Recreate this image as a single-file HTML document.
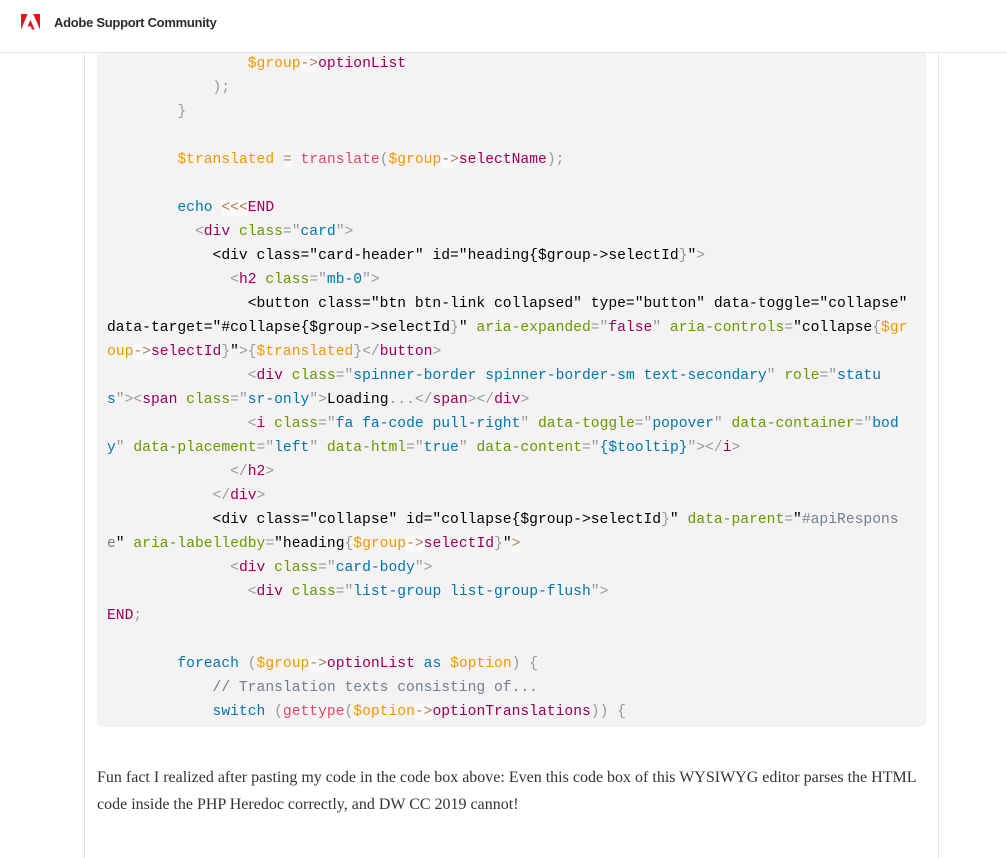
<!DOCTYPE html>
<html>
<head>
<meta charset="utf-8">
<style>
html,body{margin:0;padding:0;background:#fff;width:1007px;height:858px;overflow:hidden;position:relative}
#hdr{position:absolute;left:0;top:0;width:1007px;height:52px;background:#fff;border-bottom:1px solid #e6e6e6;z-index:3}
#title{position:absolute;left:54px;top:14px;font:bold 13px/18px "Liberation Sans",sans-serif;color:#2c2c2c;letter-spacing:-.28px;white-space:nowrap}
#bl{position:absolute;left:84px;top:52px;width:1px;height:806px;background:#e4e4e4}
#br{position:absolute;left:938px;top:52px;width:1px;height:806px;background:#e4e4e4}
#box{position:absolute;left:97px;top:40px;width:829px;height:687px;background:#f4f2f2;border-radius:6px}
pre{position:absolute;left:107px;top:52px;margin:0;font:14.67px/24px "Liberation Mono",monospace;color:#000;white-space:pre;z-index:1}
.t{color:#905}.a{color:#690}.v{color:#07a}.p{color:#999}.d{color:#e90}
.o{color:#a67f59;background:rgba(255,255,255,.5)}
.f{color:#DD4A68}.c{color:#708090}
#txt{position:absolute;left:97px;top:764px;width:835px;font:16px/27px "Liberation Serif",serif;color:#333;white-space:nowrap}
</style>
</head>
<body>
<div id="hdr">
<svg style="position:absolute;left:21px;top:14px" width="19" height="16" viewBox="0 0 19 16"><path fill="#e5141a" d="M0 0H6.6L0 15.5ZM12.2 0H19V15.5ZM9.4 5.8L13.6 15.5H10.9L9.7 12.4H6.6Z"/></svg>
<div id="title">Adobe Support Community</div>
</div>
<div id="bl"></div><div id="br"></div>
<div id="box"></div>
<pre>                <span class="d">$group</span><span class="o">-&gt;</span><span class="t">optionList</span>
            <span class="p">);</span>
        <span class="p">}</span>

        <span class="d">$translated</span> <span class="o">=</span> <span class="f">translate</span><span class="p">(</span><span class="d">$group</span><span class="o">-&gt;</span><span class="t">selectName</span><span class="p">);</span>

        <span class="v">echo</span> <span class="o">&lt;&lt;&lt;</span><span class="t">END</span>
          <span class="p">&lt;</span><span class="t">div</span> <span class="a">class</span><span class="p">="</span><span class="v">card</span><span class="p">"&gt;</span>
            &lt;div class="card-header" id="heading{$group-&gt;selectId<span class="p">}</span>"<span class="p">&gt;</span>
              <span class="p">&lt;</span><span class="t">h2</span> <span class="a">class</span><span class="p">="</span><span class="v">mb-0</span><span class="p">"&gt;</span>
                &lt;button class="btn btn-link collapsed" type="button" data-toggle="collapse"
data-target="#collapse{$group-&gt;selectId<span class="p">}</span>" <span class="a">aria-expanded</span><span class="p">="</span><span class="t">false</span><span class="p">"</span> <span class="a">aria-controls</span><span class="p">=</span>"collapse<span class="p">{</span><span class="d">$gr</span>
<span class="d">oup</span><span class="o">-&gt;</span><span class="t">selectId</span><span class="p">}</span>"<span class="p">&gt;{</span><span class="d">$translated</span><span class="p">}&lt;/</span><span class="t">button</span><span class="p">&gt;</span>
                <span class="p">&lt;</span><span class="t">div</span> <span class="a">class</span><span class="p">="</span><span class="v">spinner-border spinner-border-sm text-secondary</span><span class="p">"</span> <span class="a">role</span><span class="p">="</span><span class="v">statu</span>
<span class="v">s</span><span class="p">"&gt;&lt;</span><span class="t">span</span> <span class="a">class</span><span class="p">="</span><span class="v">sr-only</span><span class="p">"&gt;</span>Loading<span class="p">...&lt;/</span><span class="t">span</span><span class="p">&gt;&lt;/</span><span class="t">div</span><span class="p">&gt;</span>
                <span class="p">&lt;</span><span class="t">i</span> <span class="a">class</span><span class="p">="</span><span class="v">fa fa-code pull-right</span><span class="p">"</span> <span class="a">data-toggle</span><span class="p">="</span><span class="v">popover</span><span class="p">"</span> <span class="a">data-container</span><span class="p">="</span><span class="v">bod</span>
<span class="v">y</span><span class="p">"</span> <span class="a">data-placement</span><span class="p">="</span><span class="v">left</span><span class="p">"</span> <span class="a">data-html</span><span class="p">="</span><span class="v">true</span><span class="p">"</span> <span class="a">data-content</span><span class="p">="</span><span class="v">{$tooltip}</span><span class="p">"&gt;&lt;/</span><span class="t">i</span><span class="p">&gt;</span>
              <span class="p">&lt;/</span><span class="t">h2</span><span class="p">&gt;</span>
            <span class="p">&lt;/</span><span class="t">div</span><span class="p">&gt;</span>
            &lt;div class="collapse" id="collapse{$group-&gt;selectId<span class="p">}</span>" <span class="a">data-parent</span><span class="p">=</span>"<span class="c">#apiRespons</span>
<span class="c">e</span>" <span class="a">aria-labelledby</span><span class="p">=</span>"heading<span class="p">{</span><span class="d">$group</span><span class="o">-&gt;</span><span class="t">selectId</span><span class="p">}</span>"<span class="o">&gt;</span>
              <span class="p">&lt;</span><span class="t">div</span> <span class="a">class</span><span class="p">="</span><span class="v">card-body</span><span class="p">"&gt;</span>
                <span class="p">&lt;</span><span class="t">div</span> <span class="a">class</span><span class="p">="</span><span class="v">list-group list-group-flush</span><span class="p">"&gt;</span>
<span class="t">END</span><span class="p">;</span>

        <span class="v">foreach</span> <span class="p">(</span><span class="d">$group</span><span class="o">-&gt;</span><span class="t">optionList</span> <span class="v">as</span> <span class="d">$option</span><span class="p">) {</span>
            <span class="c">// Translation texts consisting of...</span>
            <span class="v">switch</span> <span class="p">(</span><span class="f">gettype</span><span class="p">(</span><span class="d">$option</span><span class="o">-&gt;</span><span class="t">optionTranslations</span><span class="p">)) {</span></pre>
<div id="txt">Fun fact I realized after pasting my code in the code box above: Even this code box of this WYSIWYG editor parses the HTML<br>code inside the PHP Heredoc correctly, and DW CC 2019 cannot!</div>
</body>
</html>
